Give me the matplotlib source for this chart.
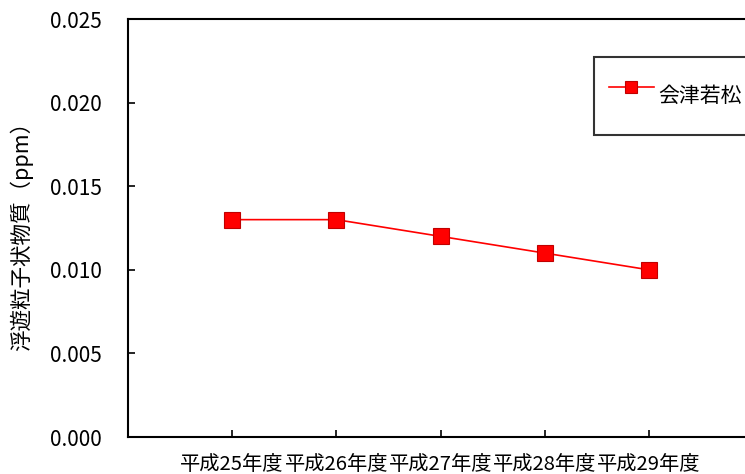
import matplotlib
matplotlib.use("Agg")
import matplotlib.pyplot as plt

plt.rcParams['font.family'] = ['Noto Sans CJK JP', 'DejaVu Sans']

categories = ["平成25年度", "平成26年度", "平成27年度", "平成28年度", "平成29年度"]
values = [0.013, 0.013, 0.012, 0.011, 0.010]
series_name = "会津若松"
yticks = [0.000, 0.005, 0.010, 0.015, 0.020, 0.025]
ytick_labels = ["0.000", "0.005", "0.010", "0.015", "0.020", "0.025"]

fig = plt.figure(figsize=(7.45, 4.74), dpi=100)
ax = fig.add_axes([128/745, 37/474, 625/745, 418/474])

x = list(range(len(categories)))
ax.plot(x, values, color='#ff0000', lw=1.2, marker='s', markersize=12,
        markerfacecolor='#ff0000', markeredgecolor='#c00000', markeredgewidth=0.8,
        label=series_name)

ax.set_xlim(-1, 5)
ax.set_ylim(0, 0.025)
ax.set_xticks(x)
ax.set_xticklabels(categories, fontsize=14.6)
ax.set_yticks(yticks)
ax.set_yticklabels(ytick_labels, fontsize=15)
ax.tick_params(direction='in', length=5, width=1.2)
ax.tick_params(axis='y', pad=18.7)
ax.tick_params(axis='x', pad=12.5)
for s in ax.spines.values():
    s.set_linewidth(1.5)
ax.set_ylabel("浮遊粒子状物質（ppm）", fontsize=15.5)
ax.yaxis.set_label_coords(-0.152, 0.492)

leg = ax.legend(loc='upper left', bbox_to_anchor=(0.7456, 0.909), fontsize=15,
                frameon=True, fancybox=False, edgecolor='black',
                borderpad=0.7, handlelength=2.16, handletextpad=0.24,
                handleheight=3.25, markerscale=0.67, borderaxespad=0)
leg.get_frame().set_linewidth(1.5)

fig.savefig("out.png", dpi=100)
